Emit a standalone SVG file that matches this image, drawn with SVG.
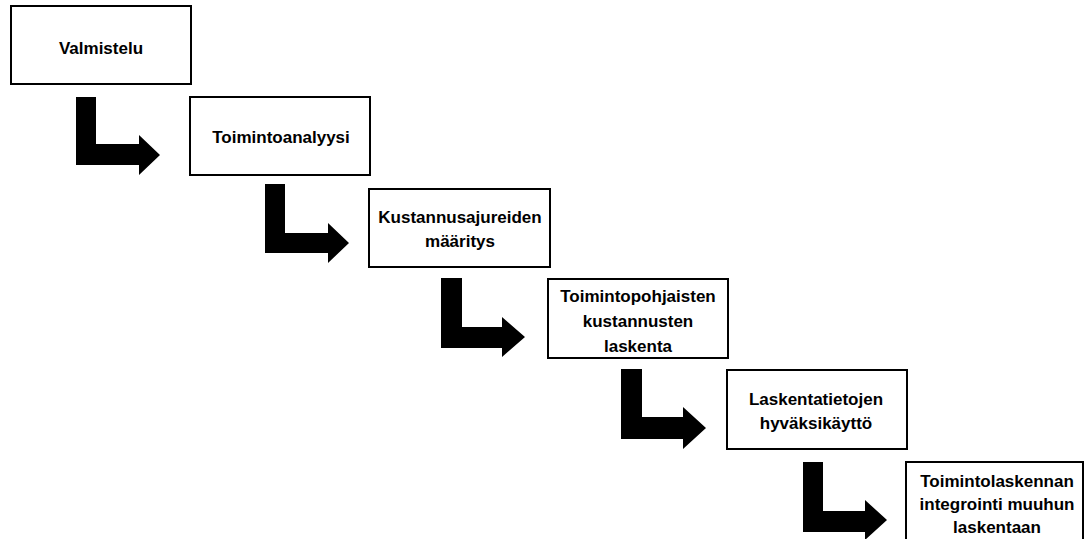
<svg xmlns="http://www.w3.org/2000/svg" width="1085" height="539" viewBox="0 0 1085 539">
<style>
.box{fill:#fff;stroke:#000;stroke-width:2}
.lbl{font-family:"Liberation Sans",Arial,sans-serif;font-weight:bold;font-size:17px;fill:#000;text-anchor:middle}
.arr{fill:#000;stroke:none}
</style>
<rect width="1085" height="539" fill="#fff"/>
<g id="connectors">
<polygon class="arr" points="76,97 96,97 96,144 139,144 139,135 160,155 139,175 139,165 76,165"/>
<polygon class="arr" points="265,184 285,184 285,233 328,233 328,223 349,243 328,263 328,253 265,253"/>
<polygon class="arr" points="441,278 462,278 462,327 502,327 502,317 525,337 502,357 502,348 441,348"/>
<polygon class="arr" points="621,369 642,369 642,417 683,417 683,407 706,428 683,449 683,439 621,439"/>
<polygon class="arr" points="803,462 823,462 823,511 865,511 865,500 887,520 865,540 865,532 803,532"/>
</g>
<g id="n1">
<rect class="box" x="11" y="6" width="180" height="78"/>
<text class="lbl" x="101" y="54">Valmistelu</text>
</g>
<g id="n2">
<rect class="box" x="190" y="97" width="180" height="78"/>
<text class="lbl" x="281" y="143">Toimintoanalyysi</text>
</g>
<g id="n3">
<rect class="box" x="369" y="189" width="181" height="78"/>
<text class="lbl" x="460" y="223">Kustannusajureiden</text>
<text class="lbl" x="460" y="247">määritys</text>
</g>
<g id="n4">
<rect class="box" x="548" y="279" width="180" height="79"/>
<text class="lbl" x="638" y="302">Toimintopohjaisten</text>
<text class="lbl" x="638" y="327">kustannusten</text>
<text class="lbl" x="638" y="352">laskenta</text>
</g>
<g id="n5">
<rect class="box" x="727" y="370" width="180" height="79"/>
<text class="lbl" x="816" y="405">Laskentatietojen</text>
<text class="lbl" x="816" y="429">hyväksikäyttö</text>
</g>
<g id="n6">
<rect class="box" x="906" y="462" width="177" height="100"/>
<text class="lbl" x="997" y="487">Toimintolaskennan</text>
<text class="lbl" x="997" y="510">integrointi muuhun</text>
<text class="lbl" x="997" y="533">laskentaan</text>
</g>
</svg>
